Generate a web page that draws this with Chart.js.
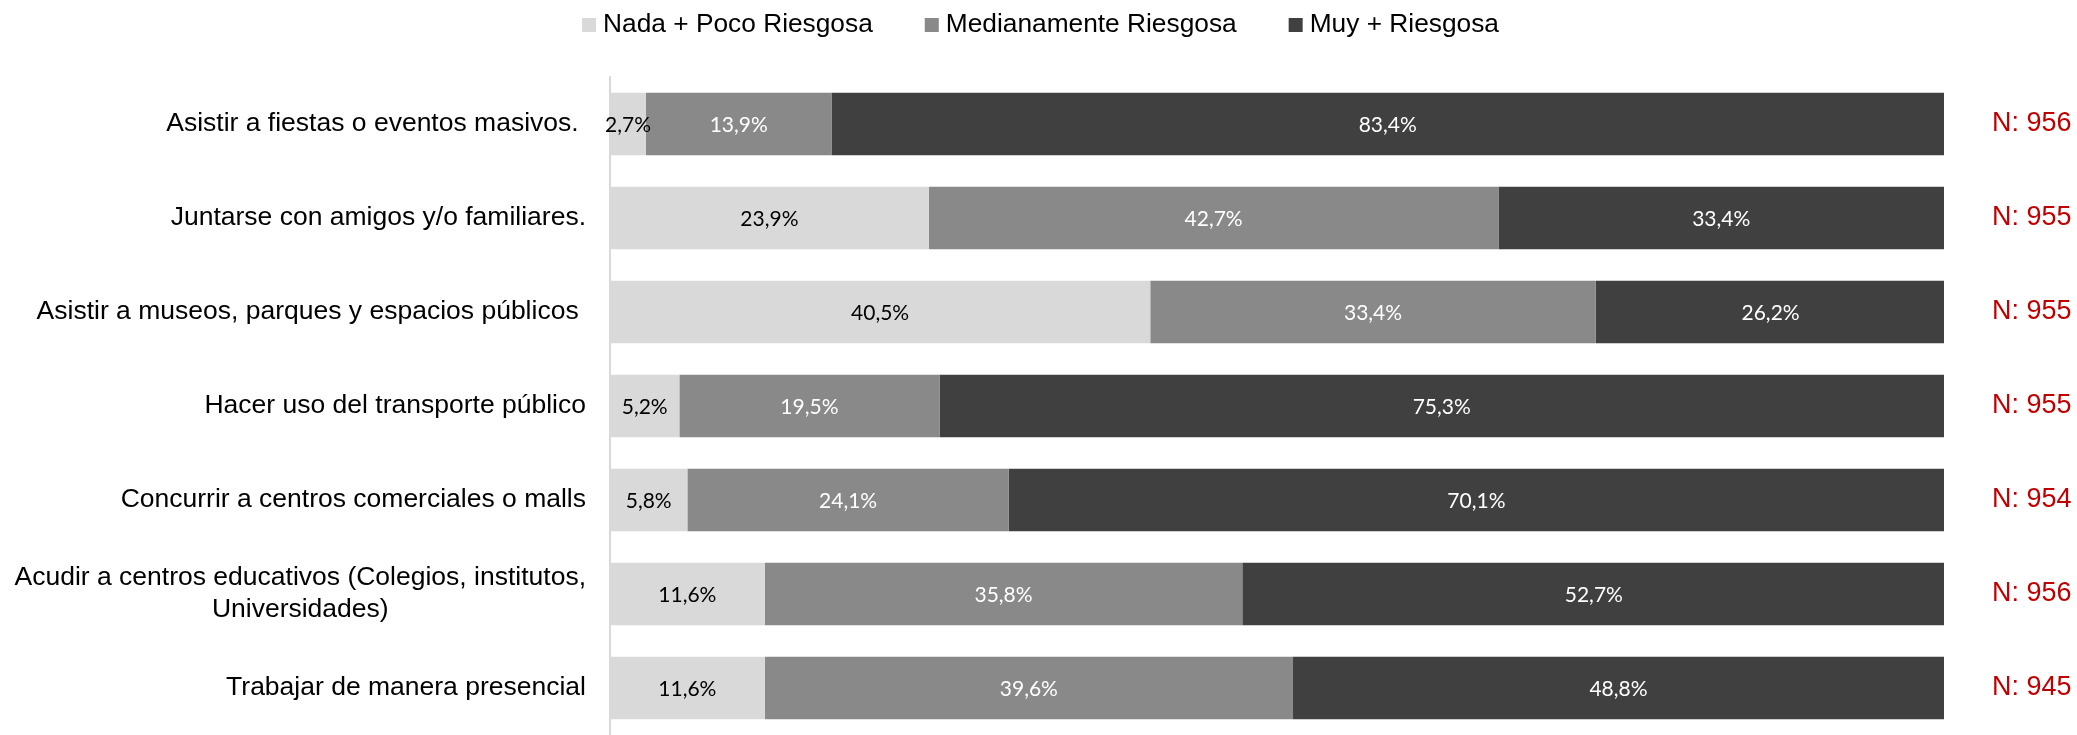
<!DOCTYPE html>
<html>
<head>
<meta charset="utf-8">
<script src="https://cdn.jsdelivr.net/npm/chart.js@4/dist/chart.umd.min.js"></script>
<style>
    html, body { margin: 0; padding: 0; background: #fff; }
    #wrap { width: 2077px; height: 735px; }
</style>
</head>
<body>
<div id="wrap"><canvas id="chart"></canvas></div>
<script>
const categorias = [
    ['Asistir a fiestas o eventos masivos. '],
    ['Juntarse con amigos y/o familiares.'],
    ['Asistir a museos, parques y espacios públicos '],
    ['Hacer uso del transporte público'],
    ['Concurrir a centros comerciales o malls'],
    ['Acudir a centros educativos (Colegios, institutos,', 'Universidades)'],
    ['Trabajar de manera presencial']
];
const series = ['Nada + Poco Riesgosa', 'Medianamente Riesgosa', 'Muy + Riesgosa'];
const nada_poco = [2.7, 23.9, 40.5, 5.2, 5.8, 11.6, 11.6];
const medianamente = [13.9, 42.7, 33.4, 19.5, 24.1, 35.8, 39.6];
const muy = [83.4, 33.4, 26.2, 75.3, 70.1, 52.7, 48.8];
const n_casos = [956, 955, 955, 955, 954, 956, 945];

const colores = ['#d9d9d9', '#898989', '#404040'];
const colores_texto = ['#000000', '#ffffff', '#ffffff'];

// etiquetas de valor dentro de cada barra
const valores_plugin = {
    id: 'valores',
    afterDatasetsDraw(chart) {
        let ctx = chart.ctx;
        ctx.save();
        ctx.font = '21px Lato';
        ctx.textAlign = 'center';
        ctx.textBaseline = 'middle';
        chart.data.datasets.forEach(function (ds, di) {
            let meta = chart.getDatasetMeta(di);
            ctx.fillStyle = colores_texto[di];
            meta.data.forEach(function (bar, i) {
                let x = (bar.x + bar.base) / 2;
                ctx.fillText(ds.data[i].toFixed(1).replace('.', ',') + '%', x, bar.y + 1);
            });
        });
        ctx.restore();
    }
};

// categorias a la izquierda y N a la derecha
const lados_plugin = {
    id: 'lados',
    afterDraw(chart) {
        let ctx = chart.ctx;
        let y_scale = chart.scales.y;
        let area = chart.chartArea;
        ctx.save();
        ctx.textBaseline = 'middle';
        ctx.font = '26.5px "Liberation Sans"';
        ctx.fillStyle = '#000000';
        let line_h = 32;
        categorias.forEach(function (lines, i) {
            let y = y_scale.getPixelForValue(i);
            let widest = Math.max.apply(null, lines.map(function (t) { return ctx.measureText(t).width; }));
            let right = area.left - 24;
            ctx.textAlign = 'center';
            lines.forEach(function (t, k) {
                let ly = y + (k - (lines.length - 1) / 2) * line_h;
                ctx.fillText(t, right - widest / 2, ly);
            });
        });
        ctx.font = '27px "Liberation Sans"';
        ctx.fillStyle = '#c00000';
        ctx.textAlign = 'left';
        n_casos.forEach(function (n, i) {
            let y = y_scale.getPixelForValue(i);
            ctx.fillText('N: ' + n, area.right + 48, y);
        });
        ctx.restore();
    }
};

// leyenda arriba, centrada en el lienzo
const leyenda_plugin = {
    id: 'leyenda',
    afterDraw(chart) {
        let ctx = chart.ctx;
        ctx.save();
        ctx.font = '26.3px "Liberation Sans"';
        ctx.textBaseline = 'middle';
        ctx.textAlign = 'left';
        let box = 14, gap_box = 7, gap_item = 52, y = 25;
        let items = chart.data.datasets.map(function (ds) {
            return { text: ds.label, color: ds.backgroundColor, w: ctx.measureText(ds.label).width };
        });
        let total = 0;
        items.forEach(function (it, i) {
            total += box + gap_box + it.w + (i > 0 ? gap_item : 0);
        });
        let x = chart.width / 2 - total / 2 + 2;
        items.forEach(function (it) {
            ctx.fillStyle = it.color;
            ctx.fillRect(x, y - box / 2, box, box);
            ctx.fillStyle = '#000000';
            ctx.fillText(it.text, x + box + gap_box, y);
            x += box + gap_box + it.w + gap_item;
        });
        ctx.restore();
    }
};

let ctx = document.getElementById('chart').getContext('2d');
let chart = new Chart(ctx, {
    type: 'bar',
    data: {
        labels: categorias,
        datasets: [
            { label: series[0], data: nada_poco, backgroundColor: colores[0] },
            { label: series[1], data: medianamente, backgroundColor: colores[1] },
            { label: series[2], data: muy, backgroundColor: colores[2] }
        ]
    },
    options: {
        indexAxis: 'y',
        responsive: true,
        maintainAspectRatio: false,
        animation: false,
        layout: {
            padding: { top: 77, right: 133, bottom: 0, left: 0 }
        },
        datasets: {
            bar: {
                barPercentage: 0.665,
                categoryPercentage: 1,
                borderWidth: 0
            }
        },
        scales: {
            x: {
                stacked: true,
                min: 0,
                max: 100,
                display: false
            },
            y: {
                stacked: true,
                grid: { display: false },
                border: { display: true, color: '#d9d9d9', width: 2 },
                ticks: { display: false },
                afterFit: function (scale) {
                    scale.width = 610;
                }
            }
        },
        plugins: {
            legend: { display: false },
            tooltip: { enabled: false }
        }
    },
    plugins: [valores_plugin, lados_plugin, leyenda_plugin]
});
</script>
</body>
</html>
